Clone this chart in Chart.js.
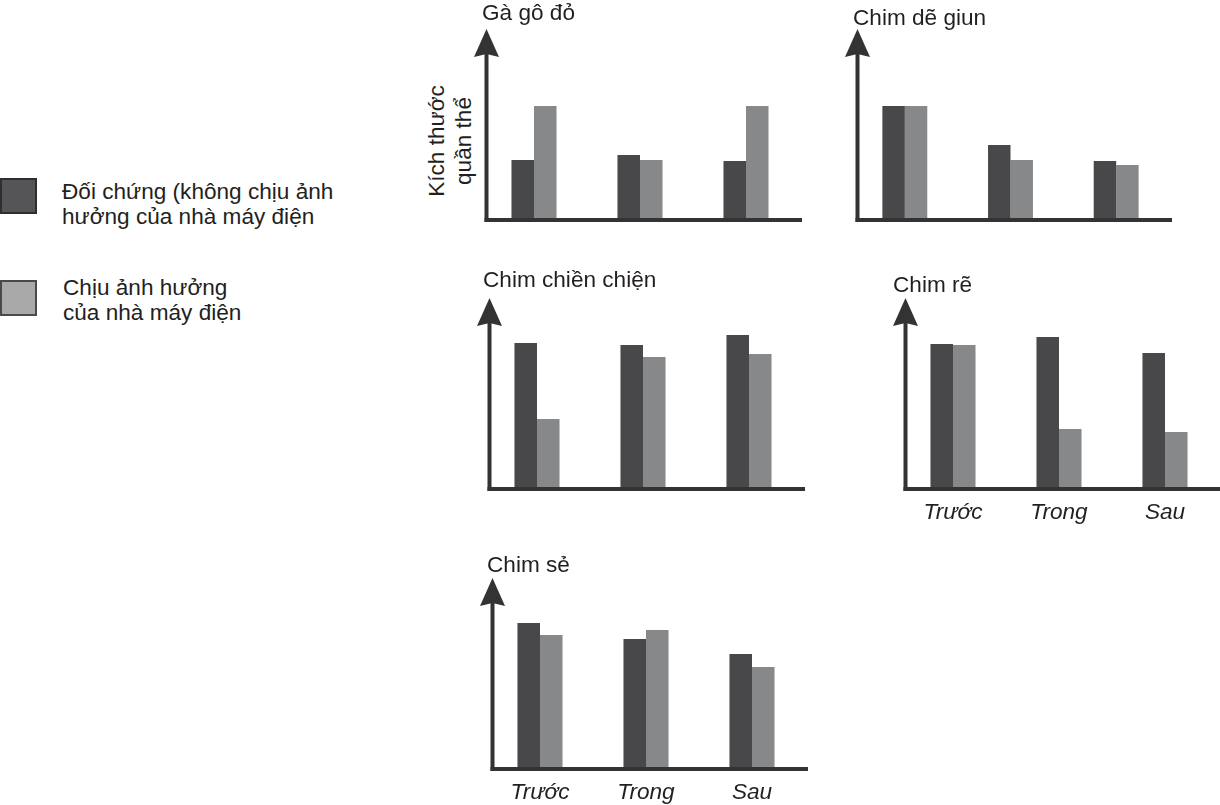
<!DOCTYPE html>
<html><head><meta charset="utf-8">
<script src="https://cdn.jsdelivr.net/npm/chart.js@4"></script>
<style>
html,body{margin:0;padding:0;background:#fff;overflow:hidden;width:1220px;height:805px;}
body{position:relative;font-family:"Liberation Sans",Arial,sans-serif;color:#231f20;}
.t{position:absolute;font-size:22.6px;line-height:25px;white-space:nowrap;}
.box{position:absolute;box-sizing:border-box;width:37px;height:36px;border:2px solid #2e2e2e;}
canvas{position:absolute;}
</style></head><body>

<div class="box" style="left:0;top:178px;background:#555557;"></div>
<div class="t" id="leg1" style="left:62px;top:179px;"></div>
<div class="box" style="left:0;top:280px;background:#a9a9aa;border-color:#4a4a4a;"></div>
<div class="t" id="leg2" style="left:63px;top:275px;"></div>

<div class="t" id="ylab" style="left:380px;top:114px;width:140px;height:54px;line-height:27px;text-align:center;transform:rotate(-90deg);white-space:normal;"></div>

<div id="holder"></div>

<script>
// ---- data ----
const categories = ["Trước", "Trong", "Sau"];
const legendLabels = ["Đối chứng (không chịu ảnh\nhưởng của nhà máy điện", "Chịu ảnh hưởng\ncủa nhà máy điện"];
const yAxisLabel = "Kích thước\nquần thể";
const panelTitles = ["Gà gô đỏ", "Chim dẽ giun", "Chim chiền chiện", "Chim rẽ", "Chim sẻ"];

const gaGoDoControl   = [31.6, 34.2, 31.1];
const gaGoDoAffected  = [60.0, 31.6, 60.0];
const chimDeGiunControl  = [60.0, 39.5, 31.1];
const chimDeGiunAffected = [60.0, 31.6, 28.9];
const chimChienChienControl  = [76.8, 75.8, 81.1];
const chimChienChienAffected = [36.8, 69.5, 71.1];
const chimReControl  = [76.3, 80.0, 71.6];
const chimReAffected = [75.8, 31.6, 30.0];
const chimSeControl  = [76.8, 68.4, 60.5];
const chimSeAffected = [70.5, 73.2, 53.7];

// ---- layout / style ----
const DARK = '#48484a', LIGHT = '#87888a', AXIS = '#333333';
const PAD = {left: 22, top: 12, right: 12, bottom: 45};
const panels = [
  {title: panelTitles[0], c: gaGoDoControl, a: gaGoDoAffected, box: [481, 30, 799, 220], tl: 482, tt: 0, labels: false},
  {title: panelTitles[1], c: chimDeGiunControl, a: chimDeGiunAffected, box: [852, 30, 1169, 220], tl: 853, tt: 5, labels: false},
  {title: panelTitles[2], c: chimChienChienControl, a: chimChienChienAffected, box: [484, 299, 802, 489], tl: 483, tt: 267, labels: false},
  {title: panelTitles[3], c: chimReControl, a: chimReAffected, box: [900, 299, 1218, 489], tl: 893, tt: 272, labels: true},
  {title: panelTitles[4], c: chimSeControl, a: chimSeAffected, box: [487, 579, 805, 769], tl: 487, tt: 552, labels: true}
];

document.getElementById('leg1').innerHTML = legendLabels[0].replace('\n', '<br>');
document.getElementById('leg2').innerHTML = legendLabels[1].replace('\n', '<br>');
document.getElementById('ylab').innerHTML = yAxisLabel.replace('\n', '<br>');

function makeAxesPlugin(showLabels) {
  return {
    id: 'arrowAxes',
    afterDatasetsDraw(chart) {
      const ctx = chart.ctx, a = chart.chartArea, x = chart.scales.x, y = chart.scales.y;
      const base = y.getPixelForValue(0), tip = y.getPixelForValue(100) - 1;
      const ax = a.left + 5.5;
      ctx.save();
      ctx.strokeStyle = AXIS; ctx.fillStyle = AXIS; ctx.lineWidth = 4; ctx.lineCap = 'butt';
      ctx.beginPath(); ctx.moveTo(ax, base + 2); ctx.lineTo(ax, tip + 15); ctx.stroke();
      ctx.beginPath(); ctx.moveTo(ax - 2, base); ctx.lineTo(a.right + 3, base); ctx.stroke();
      ctx.beginPath();
      ctx.moveTo(ax, tip); ctx.lineTo(ax + 12.5, tip + 28); ctx.lineTo(ax, tip + 25); ctx.lineTo(ax - 12.5, tip + 28);
      ctx.closePath(); ctx.fill();
      if (showLabels) {
        ctx.font = 'italic 22.6px "Liberation Sans", Arial, sans-serif';
        ctx.fillStyle = '#231f20'; ctx.textAlign = 'center'; ctx.textBaseline = 'alphabetic';
        categories.forEach((c, i) => ctx.fillText(c, x.getPixelForValue(i), base + 30));
      }
      ctx.restore();
    }
  };
}

const holder = document.getElementById('holder');
panels.forEach(p => {
  const t = document.createElement('div');
  t.className = 't'; t.style.left = p.tl + 'px'; t.style.top = p.tt + 'px'; t.textContent = p.title;
  document.body.appendChild(t);
  const [l, tp, r, b] = p.box;
  const cv = document.createElement('canvas');
  const w = (r - l) + PAD.left + PAD.right, h = (b - tp) + PAD.top + PAD.bottom;
  cv.width = w; cv.height = h;
  cv.style.left = (l - PAD.left) + 'px'; cv.style.top = (tp - PAD.top) + 'px';
  cv.style.width = w + 'px'; cv.style.height = h + 'px';
  holder.appendChild(cv);
  new Chart(cv, {
    type: 'bar',
    data: {
      labels: categories,
      datasets: [
        {label: legendLabels[0], data: p.c, backgroundColor: DARK, borderWidth: 0},
        {label: legendLabels[1], data: p.a, backgroundColor: LIGHT, borderWidth: 0}
      ]
    },
    options: {
      responsive: false, animation: false, devicePixelRatio: 1,
      layout: {padding: PAD},
      categoryPercentage: 0.425, barPercentage: 1.0,
      scales: {
        x: {display: false},
        y: {display: false, min: 0, max: 100}
      },
      plugins: {legend: {display: false}, tooltip: {enabled: false}, title: {display: false}}
    },
    plugins: [makeAxesPlugin(p.labels)]
  });
});
</script>
</body></html>
